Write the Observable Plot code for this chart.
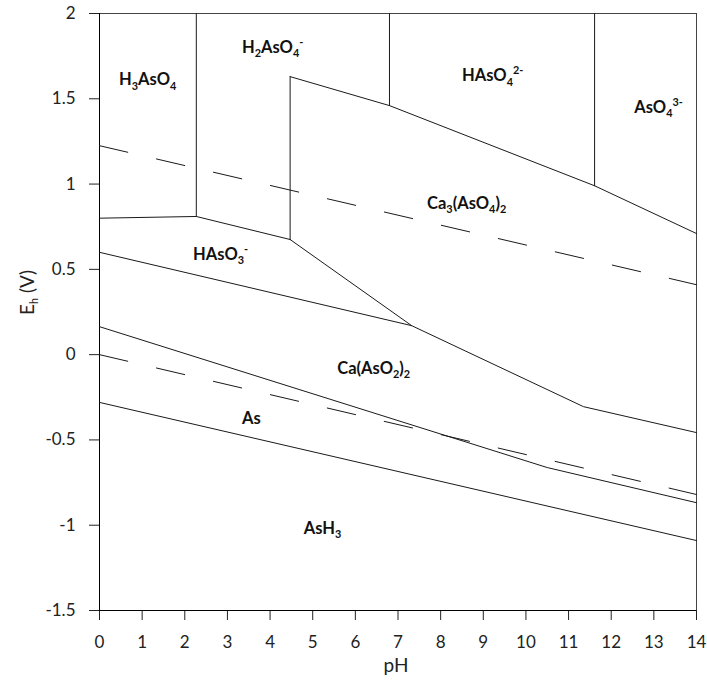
<!DOCTYPE html>
<html>
<head>
<meta charset="utf-8">
<script src="https://cdn.jsdelivr.net/npm/d3@7"></script>
<script src="https://cdn.jsdelivr.net/npm/@observablehq/plot@0.6"></script>
<style>
  html, body { margin: 0; padding: 0; background: #fff; }
</style>
</head>
<body>
<div id="chart"></div>
<script>
// ---- Data (pH, Eh in V) ----
const xTicks = [0,1,2,3,4,5,6,7,8,9,10,11,12,13,14];
const yTicks = [-1.5,-1,-0.5,0,0.5,1,1.5,2];

// Solid boundary lines
const bH3AsO4_H2AsO4 = [[2.27, 2.0], [2.27, 0.81]];
const bArsenate_HAsO3 = [[0, 0.80], [2.27, 0.81], [4.47, 0.675]];
const bCa3_left = [[4.47, 0.675], [4.47, 1.63]];
const bCa3_top = [[4.47, 1.63], [6.80, 1.46], [11.61, 0.99], [14, 0.71]];
const bH2AsO4_HAsO4 = [[6.80, 2.0], [6.80, 1.46]];
const bHAsO4_AsO4 = [[11.61, 2.0], [11.61, 0.99]];
const bHAsO3_lower = [[0, 0.60], [7.32, 0.17]];
const bCa3_bottom = [[4.47, 0.675], [7.32, 0.17], [11.35, -0.305], [14, -0.457]];
const bAs_top = [[0, 0.164], [10.5, -0.662], [14, -0.868]];
const bAs_bottom = [[0, -0.28], [14, -1.09]];

// Dashed water stability lines
const waterO2 = [[0, 1.225], [14, 0.41]];
const waterH2 = [[0, 0.0], [14, -0.82]];

// Region labels
const speciesNames = ["H_{3}AsO_{4}", "H_{2}AsO_{4}^{-}", "HAsO_{4}^{2-}", "AsO_{4}^{3-}",
  "Ca_{3}(AsO_{4})_{2}", "HAsO_{3}^{-}", "Ca(AsO_{2})_{2}", "As", "AsH_{3}"];
const speciesPH = [1.13, 4.06, 9.22, 13.11, 8.61, 2.84, 6.43, 3.56, 5.23];
const speciesEh = [1.61, 1.80, 1.635, 1.45, 0.885, 0.586, -0.08, -0.375, -1.02];

// ---- Build tables ----
const solidSets = {bH3AsO4_H2AsO4, bArsenate_HAsO3, bCa3_left, bCa3_top, bH2AsO4_HAsO4,
  bHAsO4_AsO4, bHAsO3_lower, bCa3_bottom, bAs_top, bAs_bottom};
const solid = Object.entries(solidSets).flatMap(([id, pts]) => pts.map(([pH, Eh]) => ({id, pH, Eh})));
const dashed = Object.entries({waterO2, waterH2}).flatMap(([id, pts]) => pts.map(([pH, Eh]) => ({id, pH, Eh})));
const labels = speciesNames.map((name, i) => ({name, pH: speciesPH[i], Eh: speciesEh[i]}));

const chart = Plot.plot({
  width: 707,
  height: 685,
  marginLeft: 99,
  marginRight: 11,
  marginTop: 13,
  marginBottom: 75,
  x: {domain: [0, 14]},
  y: {domain: [-1.5, 2]},
  style: {fontFamily: "Lato, 'Open Sans', sans-serif", fontSize: "16px", color: "#222", background: "#fff"},
  marks: [
    Plot.frame({stroke: "#444", strokeWidth: 1}),
    Plot.axisX({ticks: xTicks, tickSize: 10, tickPadding: 15, tickFormat: d => String(d), label: null,
      fontSize: 17, fill: "#222"}),
    Plot.axisY({ticks: yTicks, tickSize: 10, tickPadding: 14, tickFormat: d => String(d), label: null,
      fontSize: 17, fill: "#222"}),
    Plot.ruleX([0], {stroke: "#000"}),
    Plot.ruleY([-1.5], {stroke: "#000"}),
    Plot.line(solid, {x: "pH", y: "Eh", z: "id", stroke: "#1a1a1a", strokeWidth: 1}),
    Plot.line(dashed, {x: "pH", y: "Eh", z: "id", stroke: "#1a1a1a", strokeWidth: 1, strokeDasharray: "29,29.5"}),
    Plot.text(labels, {x: "pH", y: "Eh", text: "name", fontSize: 16.5, fontWeight: "bold", fill: "#111"}),
    Plot.text(["pH"], {frameAnchor: "bottom", dx: -2, dy: 61, fontSize: 19, fill: "#222"}),
    Plot.text(["E_{h} (V)"], {frameAnchor: "left", dx: -72, dy: 3, rotate: -90, fontSize: 19, fill: "#222"})
  ]
});

// Render sub/superscripts as tspans
d3.select(chart).selectAll("text").each(function() {
  const s = this.textContent;
  if (!/[_^]\{/.test(s)) return;
  const fs = parseFloat(getComputedStyle(this).fontSize) || 16;
  const parts = s.match(/(_\{[^}]*\}|\^\{[^}]*\}|[^_^]+)/g);
  const el = d3.select(this);
  el.text(null);
  let cur = 0;
  for (const p of parts) {
    let kind = "n", txt = p;
    if (p.startsWith("_{")) { kind = "sub"; txt = p.slice(2, -1); }
    else if (p.startsWith("^{")) { kind = "sup"; txt = p.slice(2, -1); }
    const target = kind === "sub" ? fs * 0.28 : kind === "sup" ? -fs * 0.42 : 0;
    const t = el.append("tspan").text(txt).attr("dy", (target - cur) + "px");
    if (kind !== "n") t.attr("font-size", (fs * 0.68) + "px");
    cur = target;
  }
});

document.getElementById("chart").appendChild(chart);
</script>
</body>
</html>
